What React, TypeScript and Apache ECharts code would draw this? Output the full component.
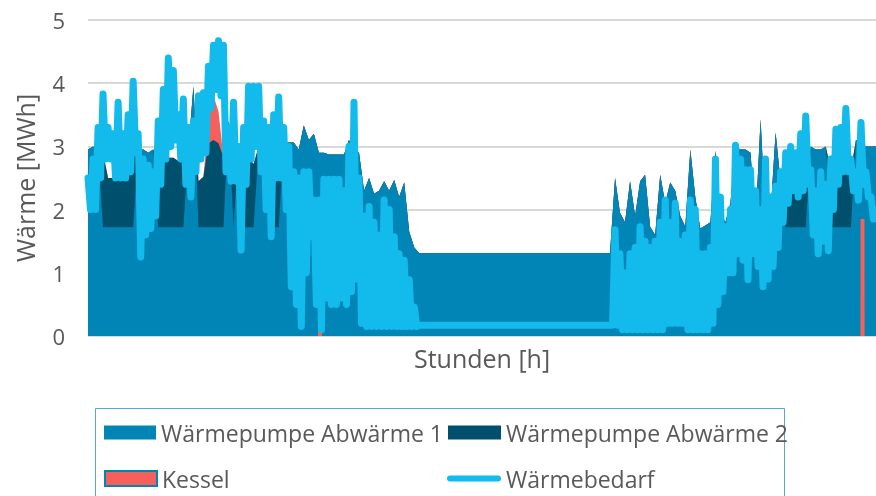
import React, { useEffect, useRef } from 'react';
import * as echarts from 'echarts';

const demandHigh = [
  2.5, 2.8, 3.3, 3.83, 3.3, 3.2, 3.7, 3.2, 3.5, 4.03,
  3.2, 2.8, 2.7, 2.6, 3.4, 3.9, 4.4, 4.2, 3.5, 3.75,
  3.3, 3.4, 3.8, 3.85, 4.27, 4.6, 4.67, 4.6, 3.3, 3.7,
  3.0, 3.3, 3.95, 3.95, 3.95, 3.4, 3.3, 3.5, 3.78, 3.3,
  3.0, 2.6, 2.5, 2.6, 2.6, 2.15, 2.15, 2.48, 2.48, 2.48,
  2.48, 2.3, 3.0, 3.7, 2.5, 1.9, 2.05, 1.8, 1.6, 2.15,
  2.0, 1.57, 1.3, 1.2, 0.89, 0.46, 0.17, 0.17, 0.17, 0.17,
  0.17, 0.17, 0.17, 0.17, 0.17, 0.17, 0.17, 0.17, 0.17, 0.17,
  0.17, 0.17, 0.17, 0.17, 0.17, 0.17, 0.17, 0.17, 0.17, 0.17,
  0.17, 0.17, 0.17, 0.17, 0.17, 0.17, 0.17, 0.17, 0.17, 0.17,
  0.17, 0.17, 0.17, 0.17, 0.17, 1.68, 1.3, 1.0, 1.3, 1.4,
  1.73, 1.5, 1.4, 1.5, 1.8, 2.15, 1.8, 2.1, 1.5, 1.6,
  2.15, 2.0, 1.3, 1.3, 1.4, 2.8, 2.2, 1.73, 2.0, 3.02,
  2.8, 2.63, 2.63, 2.3, 2.0, 2.8, 2.2, 2.37, 2.6, 2.9,
  3.0, 2.9, 3.2, 3.48, 2.63, 2.3, 2.6, 2.4, 2.8, 3.27,
  3.3, 3.6, 2.8, 2.6, 3.38, 2.6, 2.2, 2.0,
];

const demandLow = [
  2.0, 2.0, 2.5, 2.8, 2.8, 2.5, 2.5, 2.5, 2.6, 2.9,
  1.25, 1.6, 1.7, 1.9, 2.4, 2.8, 3.0, 3.1, 2.8, 2.4,
  2.2, 2.6, 2.8, 2.9, 3.6, 3.9, 3.8, 2.6, 2.45, 2.45,
  1.36, 2.4, 2.8, 3.0, 2.6, 2.0, 1.57, 2.5, 2.5, 2.0,
  0.78, 0.5, 0.15, 1.0, 1.57, 0.5, 0.1, 0.6, 0.5, 0.5,
  0.6, 0.5, 0.7, 0.9, 0.2, 0.15, 0.15, 0.15, 0.15, 0.15,
  0.15, 0.15, 0.15, 0.15, 0.15, 0.15, 0.17, 0.17, 0.17, 0.17,
  0.17, 0.17, 0.17, 0.17, 0.17, 0.17, 0.17, 0.17, 0.17, 0.17,
  0.17, 0.17, 0.17, 0.17, 0.17, 0.17, 0.17, 0.17, 0.17, 0.17,
  0.17, 0.17, 0.17, 0.17, 0.17, 0.17, 0.17, 0.17, 0.17, 0.17,
  0.17, 0.17, 0.17, 0.17, 0.17, 0.17, 0.1, 0.1, 0.1, 0.1,
  0.1, 0.1, 0.1, 0.1, 0.1, 0.2, 0.2, 0.2, 0.2, 0.1,
  0.1, 0.1, 0.1, 0.1, 0.2, 0.5, 0.7, 1.0, 1.0, 1.3,
  1.2, 0.89, 1.3, 1.1, 0.78, 0.9, 1.1, 1.4, 1.8, 2.1,
  2.3, 2.2, 2.3, 2.4, 1.6, 1.3, 1.5, 1.35, 2.0, 2.4,
  2.6, 2.6, 2.3, 2.15, 2.4, 2.2, 1.85, 1.85,
];

const hp1 = [
  2.95, 3.0, 2.95, 1.72, 1.72, 1.72, 1.72, 1.72, 1.72, 1.72,
  2.95, 2.95, 2.9, 2.95, 1.72, 1.72, 1.72, 1.72, 1.72, 1.72,
  2.95, 3.95, 1.72, 1.72, 1.72, 1.72, 1.72, 1.72, 3.4, 1.72,
  3.0, 1.72, 1.72, 1.72, 3.0, 3.05, 3.0, 1.72, 1.72, 3.06,
  3.06, 3.06, 2.95, 3.33, 3.1, 3.2, 2.9, 2.9, 2.87, 2.87,
  2.87, 2.87, 3.1, 2.95, 2.9, 2.3, 2.5, 2.25, 2.3, 2.45,
  2.3, 2.47, 2.2, 2.43, 1.65, 1.4, 1.31, 1.31, 1.31, 1.31,
  1.31, 1.31, 1.31, 1.31, 1.31, 1.31, 1.31, 1.31, 1.31, 1.31,
  1.31, 1.31, 1.31, 1.31, 1.31, 1.31, 1.31, 1.31, 1.31, 1.31,
  1.31, 1.31, 1.31, 1.31, 1.31, 1.31, 1.31, 1.31, 1.31, 1.31,
  1.31, 1.31, 1.31, 1.31, 1.31, 2.5, 1.95, 1.8, 2.45, 1.9,
  2.45, 2.55, 1.73, 1.6, 2.55, 2.1, 2.43, 2.3, 1.9, 1.73,
  2.95, 2.2, 1.7, 1.75, 1.8, 2.93, 1.95, 1.8, 2.1, 3.0,
  2.95, 2.95, 2.9, 1.8, 3.43, 1.85, 1.95, 3.22, 2.43, 1.72,
  1.72, 1.72, 1.72, 1.72, 3.0, 2.95, 2.95, 3.0, 1.72, 1.72,
  1.72, 1.72, 1.72, 3.1, 3.05, 3.0, 3.0, 3.0,
];

const hp2 = [
  0, 0, 0, 1.18, 0.78, 0.78, 1.18, 0.78, 1.1, 1.13,
  0, 0, 0, 0, 1.08, 1.08, 1.1, 1.1, 1.05, 1.1,
  0, 0, 0.73, 0.8, 1.33, 1.38, 1.33, 1.1, 0, 1.1,
  0, 1.18, 1.1, 1.0, 0, 0, 0, 0.8, 0.78, 0,
  0, 0, 0, 0, 0, 0, 0, 0, 0, 0,
  0, 0, 0, 0, 0, 0, 0, 0, 0, 0,
  0, 0, 0, 0, 0, 0, 0, 0, 0, 0,
  0, 0, 0, 0, 0, 0, 0, 0, 0, 0,
  0, 0, 0, 0, 0, 0, 0, 0, 0, 0,
  0, 0, 0, 0, 0, 0, 0, 0, 0, 0,
  0, 0, 0, 0, 0, 0, 0, 0, 0, 0,
  0, 0, 0, 0, 0, 0, 0, 0, 0, 0,
  0, 0, 0, 0, 0, 0, 0, 0, 0, 0,
  0, 0, 0, 0, 0, 0, 0, 0, 0, 0.7,
  0.65, 0.7, 0.75, 0.7, 0, 0, 0, 0, 0.9, 1.0,
  1.05, 1.28, 0.9, 0, 0, 0, 0, 0,
];

const kessel = [
  0, 0, 0, 0, 0, 0, 0, 0, 0, 0,
  0, 0, 0, 0, 0, 0, 0, 0, 0, 0,
  0, 0, 0, 0, 0.35, 0.7, 0.5, 0, 0, 0,
  0, 0, 0, 0, 0, 0, 0, 0, 0, 0,
  0, 0, 0, 0, 0, 0, 0, 0, 0, 0,
  0, 0, 0, 0, 0, 0, 0, 0, 0, 0,
  0, 0, 0, 0, 0, 0, 0, 0, 0, 0,
  0, 0, 0, 0, 0, 0, 0, 0, 0, 0,
  0, 0, 0, 0, 0, 0, 0, 0, 0, 0,
  0, 0, 0, 0, 0, 0, 0, 0, 0, 0,
  0, 0, 0, 0, 0, 0, 0, 0, 0, 0,
  0, 0, 0, 0, 0, 0, 0, 0, 0, 0,
  0, 0, 0, 0, 0, 0, 0, 0, 0, 0,
  0, 0, 0, 0, 0, 0, 0, 0, 0, 0,
  0, 0, 0, 0, 0, 0, 0, 0, 0, 0,
  0, 0, 0, 0, 0, 0, 0, 0,
];

// Single hours in which only the boiler runs
const kesselPeakHours = [2579, 8610];
const kesselPeakValues = [0.12, 1.85];

const TOTAL_HOURS = 8760;
const STEP = TOTAL_HOURS / (hp1.length - 1);
const hours = hp1.map((_, i) => Math.round(i * STEP));

const C_HP1 = '#0085b6';
const C_HP2 = '#004f6d';
const C_KESSEL = '#f6605a';
const C_DEMAND = '#13baec';
const TEXT = '#595959';
const FONT = 'Open Sans';

const N_HP1 = 'Wärmepumpe Abwärme 1';
const N_HP2 = 'Wärmepumpe Abwärme 2';
const N_K = 'Kessel';
const N_D = 'Wärmebedarf';

export default function App() {
  const ref = useRef<HTMLDivElement>(null);
  useEffect(() => {
    document.body.style.margin = '0';
    const chart = echarts.init(ref.current!, null, { renderer: 'svg' });
    const pairs = (vals: number[]) => vals.map((v, i) => [hours[i], v]);
    // cumulative tops of the stacked supply (drawn back to front)
    const topHp2 = hp1.map((v, i) => v + hp2[i]);
    const topK = topHp2.map((v, i) => v + kessel[i]);
    const peakHalf = 22; // half a peak's drawn width, in hours
    const peakData: number[][] = [];
    kesselPeakHours.forEach((h, i) => {
      peakData.push([h - peakHalf - 1, 0], [h - peakHalf, kesselPeakValues[i]], [h + peakHalf, kesselPeakValues[i]], [h + peakHalf + 1, 0]);
    });
    // demand: daily peak, then daily trough half a step later
    const demandData: number[][] = [];
    demandHigh.forEach((v, i) => {
      demandData.push([hours[i], v]);
      if (hours[i] + STEP / 2 <= TOTAL_HOURS) demandData.push([hours[i] + STEP / 2, demandLow[i]]);
    });
    const legendText = { fontSize: 23, color: TEXT, fontFamily: FONT };
    const areaSeries = (name: string, data: number[][], color: string) => ({
      name,
      type: 'line',
      data,
      symbol: 'none',
      showSymbol: false,
      color,
      itemStyle: { color },
      lineStyle: { width: 0, color },
      areaStyle: { color, opacity: 1, origin: 'start' },
    });
    chart.setOption({
      animation: false,
      textStyle: { fontFamily: FONT },
      grid: { left: 88, right: 0, top: 20, bottom: 160 },
      graphic: [
        {
          type: 'rect',
          silent: true,
          z: -1,
          shape: { x: 95.5, y: 408.5, width: 689, height: 120 },
          style: { fill: 'none', stroke: '#5aa5d3', lineWidth: 1 },
        },
      ],
      legend: [
        {
          selectedMode: false, padding: 0, left: 104, top: 421, itemWidth: 52, itemHeight: 14,
          textStyle: legendText,
          data: [{ name: N_HP1, icon: 'rect', itemStyle: { color: C_HP1 } }],
        },
        {
          selectedMode: false, padding: 0, left: 448, top: 421, itemWidth: 53, itemHeight: 14,
          textStyle: legendText,
          data: [{ name: N_HP2, icon: 'rect', itemStyle: { color: C_HP2 } }],
        },
        {
          selectedMode: false, padding: 0, left: 104, top: 467, itemWidth: 52, itemHeight: 15,
          textStyle: legendText,
          data: [{ name: N_K, icon: 'rect', itemStyle: { color: C_KESSEL, borderColor: C_HP1, borderWidth: 2 } }],
        },
        {
          selectedMode: false, padding: 0, left: 447, top: 467, itemWidth: 54, itemHeight: 6,
          textStyle: legendText,
          data: [{
            name: N_D,
            icon: 'path://M3,0 L51,0 A3,3 0 0 1 51,6 L3,6 A3,3 0 0 1 3,0 Z',
            itemStyle: { color: C_DEMAND, borderWidth: 0 },
          }],
        },
      ],
      xAxis: {
        type: 'value',
        min: 0,
        max: TOTAL_HOURS,
        name: 'Stunden [h]',
        nameLocation: 'middle',
        nameGap: 9,
        nameTextStyle: { fontSize: 25, color: TEXT, fontFamily: FONT },
        axisLine: { show: false },
        axisTick: { show: false },
        axisLabel: { show: false },
        splitLine: { show: false },
      },
      yAxis: {
        type: 'value',
        min: 0,
        max: 5,
        interval: 1,
        name: 'Wärme [MWh]',
        nameLocation: 'middle',
        nameRotate: 90,
        nameGap: 51,
        nameTextStyle: { fontSize: 25, color: TEXT, fontFamily: FONT },
        axisLine: { show: false },
        axisTick: { show: false },
        axisLabel: { fontSize: 22, color: TEXT, margin: 23, fontFamily: FONT },
        splitLine: { lineStyle: { color: '#d9d9d9', width: 2 } },
      },
      series: [
        areaSeries(N_K, pairs(topK), C_KESSEL),
        areaSeries(N_HP2, pairs(topHp2), C_HP2),
        areaSeries(N_HP1, pairs(hp1), C_HP1),
        areaSeries(N_K, peakData, C_KESSEL),
        {
          name: N_D,
          type: 'line',
          data: demandData,
          symbol: 'none',
          showSymbol: false,
          color: C_DEMAND,
          lineStyle: { width: 7, color: C_DEMAND, cap: 'round', join: 'round' },
        },
      ],
    });
    return () => chart.dispose();
  }, []);
  return <div ref={ref} style={{ position: 'fixed', left: 0, top: 0, width: 876, height: 496 }} />;
}
